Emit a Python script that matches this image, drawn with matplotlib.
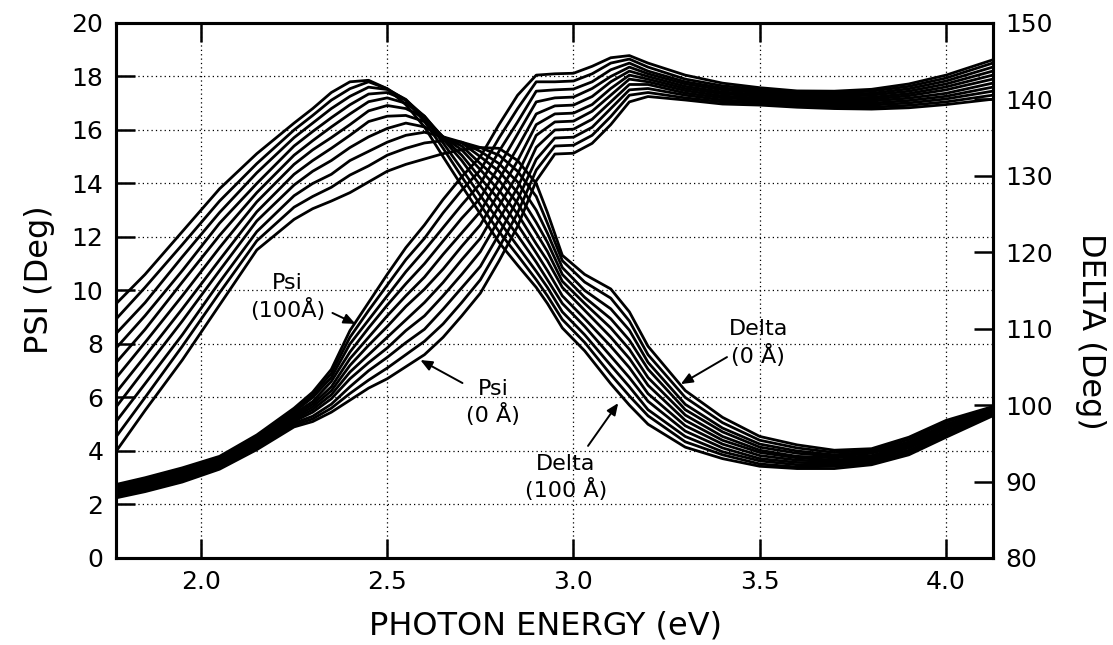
import matplotlib.pyplot as plt

# photon energy grids (eV)
energy_psi = [1.773, 1.85, 1.95, 2.05, 2.15, 2.25, 2.3, 2.35, 2.4, 2.45, 2.5, 2.55, 2.6, 2.65,
              2.7, 2.75, 2.8, 2.85, 2.9, 2.95, 3.0, 3.05, 3.1, 3.15, 3.2, 3.3, 3.4, 3.5, 3.6,
              3.7, 3.8, 3.9, 4.0, 4.125]
energy_delta = [1.773, 1.85, 1.95, 2.05, 2.15, 2.25, 2.3, 2.35, 2.4, 2.45, 2.5, 2.55, 2.6, 2.65,
                2.7, 2.75, 2.8, 2.85, 2.9, 2.93, 2.97, 3.03, 3.1, 3.15, 3.2, 3.3, 3.4, 3.5, 3.6,
                3.7, 3.8, 3.9, 4.0, 4.125]

thickness = [0, 10, 20, 30, 40, 50, 60, 70, 80, 90, 100]  # Angstrom

# Psi (deg), one list per thickness
psi_000 = [2.25, 2.48, 2.84, 3.32, 4.05, 4.9, 5.1, 5.45, 5.9, 6.35, 6.7, 7.15, 7.6, 8.25, 9.05, 9.9, 11.1, 12.4, 14.1, 15.1, 15.13, 15.5, 16.2, 17.05, 17.25, 17.12, 16.97, 16.93, 16.85, 16.8, 16.78, 16.83, 16.95, 17.15]
psi_010 = [2.3, 2.53, 2.89, 3.37, 4.1, 4.97, 5.2, 5.6, 6.15, 6.65, 7.1, 7.6, 8.1, 8.75, 9.55, 10.4, 11.6, 12.9, 14.5, 15.4, 15.43, 15.8, 16.5, 17.3, 17.4, 17.2, 17.05, 17.0, 16.91, 16.86, 16.85, 16.92, 17.05, 17.3]
psi_020 = [2.35, 2.58, 2.95, 3.42, 4.16, 5.04, 5.3, 5.75, 6.4, 7.0, 7.5, 8.05, 8.55, 9.3, 10.1, 10.9, 12.1, 13.4, 14.9, 15.7, 15.73, 16.1, 16.8, 17.5, 17.55, 17.3, 17.12, 17.06, 16.97, 16.93, 16.93, 17.01, 17.16, 17.45]
psi_030 = [2.4, 2.64, 3.0, 3.46, 4.21, 5.11, 5.45, 5.95, 6.7, 7.3, 7.85, 8.5, 9.05, 9.8, 10.6, 11.45, 12.65, 13.85, 15.35, 16.0, 16.03, 16.4, 17.05, 17.7, 17.7, 17.38, 17.2, 17.13, 17.03, 16.99, 17.0, 17.1, 17.26, 17.6]
psi_040 = [2.45, 2.69, 3.05, 3.51, 4.27, 5.18, 5.55, 6.1, 6.95, 7.6, 8.25, 8.9, 9.55, 10.3, 11.15, 11.95, 13.15, 14.35, 15.8, 16.3, 16.33, 16.7, 17.3, 17.9, 17.8, 17.47, 17.27, 17.19, 17.09, 17.06, 17.08, 17.19, 17.37, 17.75]
psi_050 = [2.5, 2.74, 3.1, 3.56, 4.32, 5.25, 5.65, 6.25, 7.2, 7.95, 8.65, 9.4, 10.05, 10.8, 11.65, 12.45, 13.65, 14.85, 16.2, 16.6, 16.63, 16.95, 17.55, 18.05, 17.9, 17.55, 17.35, 17.26, 17.15, 17.12, 17.15, 17.28, 17.5, 17.9]
psi_060 = [2.55, 2.79, 3.16, 3.61, 4.38, 5.32, 5.75, 6.4, 7.45, 8.25, 9.05, 9.8, 10.5, 11.35, 12.15, 12.95, 14.15, 15.35, 16.6, 16.9, 16.93, 17.25, 17.8, 18.2, 18.0, 17.63, 17.42, 17.32, 17.22, 17.19, 17.22, 17.36, 17.61, 18.05]
psi_070 = [2.6, 2.84, 3.21, 3.66, 4.43, 5.39, 5.85, 6.6, 7.7, 8.6, 9.45, 10.25, 11.0, 11.85, 12.7, 13.45, 14.65, 15.85, 17.05, 17.2, 17.23, 17.55, 18.0, 18.35, 18.1, 17.72, 17.5, 17.39, 17.28, 17.25, 17.3, 17.45, 17.72, 18.2]
psi_080 = [2.65, 2.9, 3.26, 3.7, 4.49, 5.46, 6.0, 6.75, 8.0, 8.9, 9.8, 10.7, 11.5, 12.35, 13.2, 14.0, 15.2, 16.3, 17.45, 17.5, 17.53, 17.8, 18.25, 18.5, 18.2, 17.8, 17.57, 17.45, 17.34, 17.32, 17.37, 17.54, 17.83, 18.35]
psi_090 = [2.7, 2.95, 3.31, 3.75, 4.54, 5.53, 6.1, 6.9, 8.25, 9.25, 10.2, 11.15, 11.95, 12.9, 13.75, 14.5, 15.7, 16.8, 17.8, 17.8, 17.83, 18.1, 18.5, 18.65, 18.35, 17.9, 17.65, 17.52, 17.4, 17.38, 17.45, 17.63, 17.94, 18.5]
psi_100 = [2.75, 3.0, 3.37, 3.8, 4.6, 5.6, 6.2, 7.05, 8.5, 9.55, 10.6, 11.6, 12.45, 13.4, 14.25, 15.0, 16.2, 17.3, 18.05, 18.1, 18.12, 18.38, 18.7, 18.78, 18.5, 18.05, 17.75, 17.58, 17.46, 17.45, 17.52, 17.72, 18.05, 18.62]

# Delta (deg), one list per thickness
delta_000 = [94.0, 99.3, 105.9, 113.1, 120.3, 124.3, 125.7, 126.7, 127.8, 129.2, 130.6, 131.5, 132.2, 132.9, 133.4, 133.7, 133.6, 132.0, 129.0, 125.2, 119.6, 117.1, 115.2, 112.2, 107.7, 101.9, 98.4, 95.9, 94.8, 94.1, 94.3, 95.8, 98.0, 99.8]
delta_010 = [95.9, 101.0, 107.7, 114.7, 121.5, 125.9, 127.3, 128.5, 130.1, 131.3, 132.7, 133.6, 134.3, 134.6, 134.4, 133.7, 132.7, 130.6, 127.3, 123.8, 118.9, 116.1, 114.0, 111.0, 106.6, 101.0, 97.7, 95.4, 94.4, 93.8, 94.1, 95.5, 97.8, 99.7]
delta_020 = [97.9, 102.8, 109.2, 116.1, 122.7, 127.4, 129.0, 130.2, 132.0, 133.2, 134.4, 135.3, 135.7, 135.1, 134.4, 133.2, 131.6, 129.2, 125.5, 122.5, 118.0, 115.0, 112.6, 109.8, 105.6, 100.1, 97.0, 94.9, 94.0, 93.5, 93.9, 95.2, 97.5, 99.5]
delta_030 = [99.8, 104.7, 111.0, 117.6, 124.1, 128.8, 130.6, 132.0, 133.7, 135.1, 136.2, 136.9, 136.4, 135.0, 134.3, 132.5, 130.6, 127.8, 123.9, 121.3, 117.1, 114.1, 111.3, 108.5, 104.7, 99.4, 96.5, 94.5, 93.7, 93.3, 93.7, 95.0, 97.3, 99.4]
delta_040 = [101.7, 106.4, 112.6, 119.0, 125.3, 130.2, 132.0, 133.6, 135.3, 137.1, 137.8, 137.9, 137.1, 135.1, 133.9, 131.6, 129.4, 126.4, 122.5, 120.1, 116.2, 113.3, 110.1, 107.3, 103.6, 98.7, 95.9, 94.1, 93.3, 93.1, 93.4, 94.8, 97.1, 99.3]
delta_050 = [103.6, 108.2, 114.3, 120.6, 126.6, 131.5, 133.4, 135.0, 136.7, 138.5, 139.2, 138.8, 137.6, 135.1, 133.4, 130.8, 128.1, 125.0, 121.1, 118.9, 115.4, 112.4, 108.9, 106.1, 102.6, 98.0, 95.4, 93.8, 93.1, 92.8, 93.2, 94.6, 96.9, 99.1]
delta_060 = [105.6, 109.9, 116.1, 122.2, 127.8, 132.7, 134.6, 136.4, 138.1, 139.7, 140.2, 139.5, 137.8, 135.0, 132.7, 129.7, 126.9, 123.6, 119.9, 117.6, 114.3, 111.3, 107.7, 104.9, 101.5, 97.3, 94.9, 93.4, 92.8, 92.6, 93.0, 94.4, 96.6, 99.0]
delta_070 = [107.5, 111.7, 117.6, 123.8, 129.0, 133.9, 135.8, 137.6, 139.3, 140.7, 140.9, 139.9, 137.8, 134.8, 132.0, 128.7, 125.5, 122.2, 118.7, 116.4, 113.3, 110.3, 106.4, 103.6, 100.5, 96.6, 94.4, 93.0, 92.5, 92.4, 92.8, 94.1, 96.4, 98.9]
delta_080 = [109.4, 113.4, 119.4, 125.2, 130.4, 135.0, 136.9, 138.8, 140.4, 141.6, 141.3, 140.0, 137.6, 134.3, 130.9, 127.4, 124.1, 120.8, 117.5, 115.4, 112.2, 109.2, 105.2, 102.4, 99.4, 95.9, 93.9, 92.7, 92.2, 92.2, 92.6, 93.9, 96.2, 98.8]
delta_090 = [111.3, 115.4, 121.0, 126.7, 131.6, 136.0, 137.9, 139.9, 141.4, 142.3, 141.4, 139.9, 137.1, 133.6, 129.9, 126.2, 122.7, 119.6, 116.4, 114.3, 111.2, 108.2, 104.0, 101.2, 98.6, 95.2, 93.5, 92.3, 91.9, 92.0, 92.4, 93.7, 96.0, 98.7]
delta_100 = [113.3, 117.1, 122.7, 128.3, 132.9, 136.9, 138.8, 140.9, 142.3, 142.5, 141.4, 139.3, 136.4, 132.5, 128.7, 125.0, 121.3, 118.3, 115.4, 113.3, 110.1, 107.1, 102.8, 100.0, 97.5, 94.5, 93.0, 92.0, 91.7, 91.7, 92.2, 93.5, 95.8, 98.6]

psi_curves = [psi_000, psi_010, psi_020, psi_030, psi_040, psi_050,
              psi_060, psi_070, psi_080, psi_090, psi_100]
delta_curves = [delta_000, delta_010, delta_020, delta_030, delta_040, delta_050,
                delta_060, delta_070, delta_080, delta_090, delta_100]

psi_ticks = list(range(0, 21, 2))
delta_ticks = list(range(80, 151, 10))
energy_ticks = [2.0, 2.5, 3.0, 3.5, 4.0]

fig = plt.figure(figsize=(11.13, 6.45), dpi=100)
ax = fig.add_axes([0.1042, 0.1349, 0.788, 0.8295])
ax2 = ax.twinx()

for c in psi_curves:
    ax.plot(energy_psi, c, color='black', lw=2.0, zorder=3)
for c in delta_curves:
    ax2.plot(energy_delta, c, color='black', lw=2.0, zorder=3)

ax.set_xlim(1.772, 4.126)
ax.set_ylim(0, 20)
ax2.set_ylim(80, 150)
ax.set_xticks(energy_ticks)
ax.set_xticklabels([f"{t:.1f}" for t in energy_ticks])
ax.set_yticks(psi_ticks)
ax2.set_yticks(delta_ticks)

ax.grid(True, ls=(0, (1, 2.5)), lw=0.9, color='black')
ax.set_axisbelow(True)

for a in (ax, ax2):
    for s in a.spines.values():
        s.set_linewidth(2.2)
ax.tick_params(axis='both', direction='in', length=14, width=1.8, labelsize=18,
               top=True, right=False, pad=9)
ax2.tick_params(axis='y', direction='in', length=14, width=1.8, labelsize=18, pad=9)

ax.set_xlabel('PHOTON ENERGY (eV)', fontsize=23, va='top')
ax.xaxis.set_label_coords(0.49, -0.098)
ax.set_ylabel('PSI (Deg)', fontsize=23, va='center')
ax.yaxis.set_label_coords(-0.087, 0.52)
ax2.set_ylabel('DELTA (Deg)', fontsize=23, rotation=-90, va='center')
ax2.yaxis.set_label_coords(1.111, 0.424)

# labels with arrows (in Psi axis coordinates)
arrow = dict(arrowstyle='-|>,head_length=0.7,head_width=0.3', lw=1.4, color='black',
             shrinkA=0, shrinkB=0)
notes = [
    ('Psi\n(100Å)', (2.232, 9.76), (2.353, 9.16), (2.415, 8.75)),
    ('Psi\n(0 Å)', (2.784, 5.81), (2.702, 6.54), (2.589, 7.40)),
    ('Delta\n(0 Å)', (3.496, 8.04), (3.412, 7.51), (3.288, 6.50)),
    ('Delta\n(100 Å)', (2.979, 3.01), (3.039, 4.19), (3.120, 5.79)),
]
for label, pos, tail, tip in notes:
    ax2.text(pos[0], pos[1], label, transform=ax.transData, fontsize=16,
             ha='center', va='center', linespacing=1.25, zorder=5)
    ax.annotate('', xy=tip, xytext=tail, arrowprops=arrow, zorder=5)

fig.savefig('out.png', dpi=100)
